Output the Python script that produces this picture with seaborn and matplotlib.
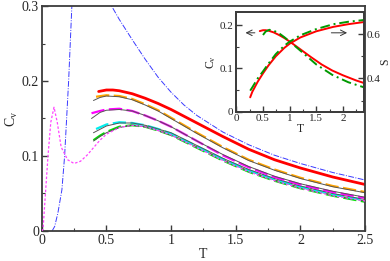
import numpy as np
import pandas as pd
import seaborn as sns
import matplotlib.pyplot as plt
from matplotlib.ticker import MultipleLocator, FuncFormatter

# ---- main panel data ----
T_blue = [0.08, 0.10, 0.125, 0.156, 0.177, 0.208, 0.233, 0.26, 0.32, 0.40, 0.48, 0.54,
          0.6, 0.7, 0.8, 0.9, 1.0, 1.1, 1.2, 1.4, 1.6, 1.8, 2.0, 2.25, 2.5]
cv_blue = [0.0, 0.006, 0.024, 0.055, 0.10, 0.20, 0.30, 0.40, 0.48, 0.42, 0.34, 0.30,
           0.282, 0.255, 0.229, 0.205, 0.185, 0.168, 0.154, 0.132, 0.115, 0.101, 0.090, 0.078, 0.068]

T_dot = [0.0, 0.01, 0.028, 0.048, 0.07, 0.095, 0.12, 0.15, 0.2, 0.25, 0.3, 0.35, 0.4, 0.45,
         0.5, 0.6, 0.7, 0.8, 0.9, 1.0, 1.2, 1.4, 1.6, 1.8, 2.0, 2.25, 2.5]
cv_dot = [0.0, 0.002, 0.048, 0.099, 0.145, 0.165, 0.145, 0.112, 0.095, 0.090, 0.093, 0.101, 0.111,
          0.121, 0.129, 0.138, 0.141, 0.139, 0.134, 0.128, 0.111, 0.094, 0.079, 0.067, 0.057, 0.047, 0.040]

T_red = [0.44, 0.5, 0.55, 0.6, 0.7, 0.8, 0.9, 1.0, 1.2, 1.4, 1.6, 1.8, 2.0, 2.25, 2.5]
cv_red = [0.186, 0.188, 0.188, 0.187, 0.183, 0.177, 0.170, 0.162, 0.144, 0.126, 0.109, 0.095, 0.084, 0.072, 0.062]

T_orange = [0.42, 0.5, 0.6, 0.7, 0.8, 0.9, 1.0, 1.2, 1.4, 1.6, 1.8, 2.0, 2.25, 2.5]
cv_orange = [0.179, 0.181, 0.180, 0.176, 0.169, 0.161, 0.151, 0.131, 0.112, 0.095, 0.082, 0.071, 0.060, 0.052]
T_gray_o = [0.40, 0.45, 0.5, 0.6, 0.7, 0.8, 0.9, 1.0, 1.2, 1.4, 1.6, 1.8, 2.0, 2.25, 2.5]
cv_gray_o = [0.174, 0.178, 0.180, 0.179, 0.175, 0.168, 0.160, 0.150, 0.130, 0.111, 0.094, 0.081, 0.070, 0.059, 0.051]

T_mag = [0.385, 0.45, 0.5, 0.6, 0.7, 0.8, 0.9, 1.0, 1.2, 1.4, 1.6, 1.8, 2.0, 2.25, 2.5]
cv_mag = [0.157, 0.160, 0.162, 0.163, 0.160, 0.154, 0.147, 0.139, 0.120, 0.101, 0.085, 0.072, 0.062, 0.052, 0.044]
cv_gray_m = [0.150, 0.158, 0.161, 0.162, 0.160, 0.154, 0.147, 0.139, 0.120, 0.102, 0.086, 0.073, 0.063, 0.053, 0.045]

T_cyan = [0.42, 0.5, 0.6, 0.7, 0.8, 0.9, 1.0, 1.2, 1.4, 1.6, 1.8, 2.0, 2.25, 2.5]
cv_cyan = [0.136, 0.142, 0.145, 0.144, 0.141, 0.136, 0.130, 0.113, 0.096, 0.081, 0.069, 0.059, 0.049, 0.041]
T_gray_c = [0.40, 0.5, 0.6, 0.7, 0.8, 0.9, 1.0, 1.2, 1.4, 1.6, 1.8, 2.0, 2.25, 2.5]
cv_gray_c = [0.131, 0.140, 0.144, 0.144, 0.141, 0.136, 0.131, 0.114, 0.097, 0.082, 0.070, 0.060, 0.050, 0.042]

T_green = [0.40, 0.45, 0.5, 0.6, 0.7, 0.8, 0.9, 1.0, 1.2, 1.4, 1.6, 1.8, 2.0, 2.25, 2.5]
cv_green = [0.121, 0.127, 0.132, 0.139, 0.141, 0.139, 0.134, 0.128, 0.111, 0.094, 0.079, 0.067, 0.057, 0.047, 0.039]
cv_gray_g = [0.120, 0.126, 0.131, 0.138, 0.141, 0.139, 0.134, 0.128, 0.112, 0.095, 0.080, 0.068, 0.058, 0.048, 0.040]

# ---- inset data ----
T_cv_in = [0.5, 0.55, 0.62, 0.7, 0.8, 0.9, 1.0, 1.2, 1.5, 1.8, 2.1, 2.4]
cv_in_green = [0.177, 0.185, 0.189, 0.187, 0.181, 0.172, 0.162, 0.141, 0.109, 0.085, 0.068, 0.056]

T_s = [0.26, 0.3, 0.4, 0.5, 0.6, 0.74, 0.9, 1.0, 1.2, 1.5, 1.82, 2.1, 2.4]
s_red = [0.315, 0.34, 0.385, 0.423, 0.458, 0.500, 0.538, 0.557, 0.585, 0.613, 0.633, 0.645, 0.655]
s_green = [0.345, 0.36, 0.40, 0.432, 0.466, 0.510, 0.548, 0.566, 0.595, 0.623, 0.645, 0.656, 0.664]

sns.set_style("ticks")
plt.rcParams['font.family'] = ['Liberation Serif', 'DejaVu Serif']
plt.rcParams['mathtext.fontset'] = 'custom'
plt.rcParams['mathtext.rm'] = 'Liberation Serif'
plt.rcParams['mathtext.it'] = 'Liberation Serif:italic'

frame = '#3c3c3c'
fmt = FuncFormatter(lambda v, p: '{:g}'.format(round(v, 3)))


def line(ax, x, y, color, lw, dashes=None, z=2):
    d = pd.DataFrame({'x': x, 'y': y})
    g = sns.lineplot(data=d, x='x', y='y', ax=ax, color=color, lw=lw, zorder=z,
                     estimator=None, sort=False)
    if dashes is not None:
        g.lines[-1].set_dashes(dashes)
    return g


def style_axes(ax, fs):
    for s in ax.spines.values():
        s.set_color(frame)
        s.set_linewidth(1.3)
    ax.tick_params(which='both', direction='in', color=frame, labelsize=fs, pad=2)
    ax.tick_params(which='major', length=4, width=1)
    ax.tick_params(which='minor', length=2.2, width=0.8)
    ax.xaxis.set_major_formatter(fmt)
    ax.yaxis.set_major_formatter(fmt)


fig = plt.figure(figsize=(3.9, 2.61), dpi=100)
ax = fig.add_axes([0.107, 0.115, 0.829, 0.862])

line(ax, T_blue, cv_blue, '#3a3aff', 0.7, (6, 1.5, 1, 1.5), z=1)
line(ax, T_dot, cv_dot, '#ff44ff', 0.9, (2, 1.5), z=3)
line(ax, T_green, cv_green, '#00e000', 1.6, (6, 2))
line(ax, T_green, cv_gray_g, '#555555', 0.7)
line(ax, T_cyan, cv_cyan, '#00eeee', 1.6, (6, 2))
line(ax, T_gray_c, cv_gray_c, '#555555', 0.7)
line(ax, T_mag, cv_mag, '#ff00ff', 1.6, (6, 2))
line(ax, T_mag, cv_gray_m, '#555555', 0.7)
line(ax, T_orange, cv_orange, '#ffa500', 1.6, (6, 2))
line(ax, T_gray_o, cv_gray_o, '#555555', 0.7)
line(ax, T_red, cv_red, '#ff0000', 2.0)

ax.set_xlim(0, 2.5)
ax.set_ylim(0, 0.3)
ax.xaxis.set_major_locator(MultipleLocator(0.5))
ax.xaxis.set_minor_locator(MultipleLocator(0.25))
ax.yaxis.set_major_locator(MultipleLocator(0.1))
ax.yaxis.set_minor_locator(MultipleLocator(0.05))
style_axes(ax, 10)
ax.set_xlabel('T', fontsize=10, labelpad=1)
ax.set_ylabel(r'C$_\mathrm{v}$', fontsize=10, labelpad=1)

# ---- inset ----
ins = fig.add_axes([0.606, 0.572, 0.328, 0.382])
ins.set_facecolor('white')
line(ins, T_red, cv_red, '#ff0000', 1.4)
line(ins, T_cv_in, cv_in_green, '#009900', 1.4, (5, 2, 1, 2))
ins.set_xlim(0, 2.4)
ins.set_ylim(0, 0.23)
ins.xaxis.set_major_locator(MultipleLocator(0.5))
ins.xaxis.set_minor_locator(MultipleLocator(0.25))
ins.yaxis.set_major_locator(MultipleLocator(0.1))
ins.yaxis.set_minor_locator(MultipleLocator(0.05))
style_axes(ins, 8)
ins.set_xlabel('T', fontsize=8.5, labelpad=0)
ins.set_ylabel(r'C$_\mathrm{v}$', fontsize=8.5, labelpad=1)
ins.annotate('', xy=(0.12, 0.182), xytext=(0.40, 0.182),
             arrowprops=dict(arrowstyle='->', color='#333333', lw=0.7))
ins.annotate('', xy=(2.13, 0.182), xytext=(1.73, 0.182),
             arrowprops=dict(arrowstyle='->', color='#333333', lw=0.7))

ins2 = ins.twinx()
line(ins2, T_s, s_red, '#ff0000', 1.4)
line(ins2, T_s, s_green, '#009900', 1.4, (5, 2, 1, 2))
ins2.set_ylim(0.25, 0.70)
ins2.yaxis.set_major_locator(MultipleLocator(0.2))
ins2.yaxis.set_minor_locator(MultipleLocator(0.1))
style_axes(ins2, 8)
ins2.set_ylabel('S', fontsize=8.5, labelpad=-1)
ins2.set_xlabel('')

plt.savefig('out.png', dpi=100)
